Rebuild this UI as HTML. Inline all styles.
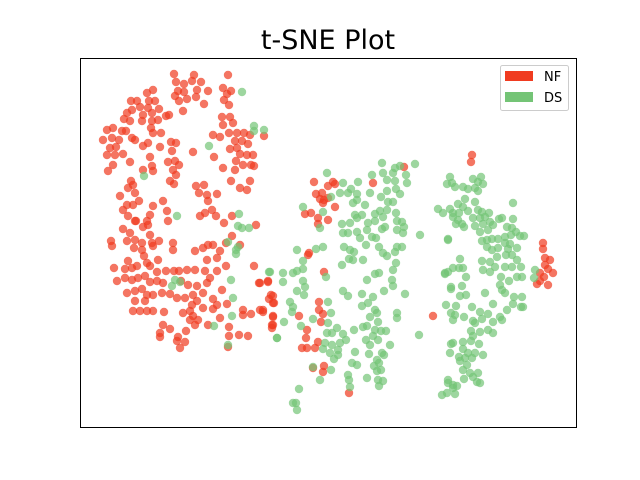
<!DOCTYPE html>
<html><head><meta charset="utf-8"><style>
html,body{margin:0;padding:0;background:#fff;}
svg{display:block;font-family:"DejaVu Sans","Liberation Sans",sans-serif;}
</style></head><body>
<svg id="chart" width="640" height="480" viewBox="0 0 640 480" xmlns="http://www.w3.org/2000/svg">
<rect x="0" y="0" width="640" height="480" fill="#fff"/>
<text x="328" y="49" text-anchor="middle" font-size="27" fill="#000">t-SNE Plot</text>
<g id="points"></g>
<rect x="80.5" y="58.5" width="496" height="369" fill="none" stroke="#000" stroke-width="1"/>
<g>
<rect x="500.5" y="65.5" width="68" height="45" rx="2" fill="#fff" fill-opacity="0.8" stroke="#ccc"/>
<rect x="505" y="71" width="28" height="10" fill="#f03b20"/>
<text x="544" y="81" font-size="13">NF</text>
<rect x="505" y="92" width="28" height="10" fill="#74c476"/>
<text x="544" y="102" font-size="13">DS</text>
</g>
</svg>
<script>
// t-SNE embedding coordinates (arbitrary units; y axis increases downward)
const nfPoints = [[94,16],[114,17],[148,17],[96,24],[104,26],[112,23],[121,24],[117,32],[128,33],[98,33],[104,34],[95,38],[99,43],[107,41],[116,39],[124,46],[143,30],[151,33],[147,36],[144,42],[149,47],[103,53],
[73,32],[67,35],[69,43],[75,43],[51,43],[57,43],[47,55],[52,52],[60,49],[68,50],[72,55],[79,51],[63,57],[44,61],[50,63],[62,63],[72,63],[78,62],[86,58],[89,57],[27,72],[33,70],[42,73],[46,73],[23,82],[32,80],[39,82],[52,80],[55,82],[63,88],[68,85],[71,70],[73,75],[81,75],[80,89],[91,84],[96,85],[92,93],[30,90],[36,89],[27,97],[35,97],[43,96],[33,107],[28,113],[50,104],[70,99],[63,112],[72,108],[73,113],[88,104],[95,103],[99,107],[93,112],[96,117],[90,123],[94,126],[113,94],[134,99],
[142,59],[150,59],[143,67],[153,65],[133,77],[140,79],[149,75],[157,75],[164,75],[155,83],[162,83],[170,77],[184,78],[150,91],[157,90],[168,86],[160,96],[167,97],[173,97],[143,110],[156,103],[163,107],[171,107],[174,108],[155,112],[151,123],[170,123],[160,130],[167,132],
[51,123],[53,127],[48,130],[55,135],[40,138],[47,147],[53,147],[59,143],[43,152],[48,158],[55,163],[67,163],[70,157],[73,148],[83,143],[87,153],[88,163],[116,128],[124,127],[119,135],[127,137],[137,136],[128,143],[120,158],[125,155],[132,152],[136,158],[144,165],[152,158],[176,167],[43,171],[50,175],[56,163],[63,169],[68,167],[70,177],[31,183],[32,188],[47,183],[55,182],[62,185],[72,185],[79,183],[93,185],[93,192],[54,190],[62,192],[73,188],[78,202],[64,198],[67,205],[48,203],[52,210],[34,210],[45,211],[57,208],[70,208],[77,214],[86,213],[94,213],[99,213],[107,212],[115,212],[115,193],[123,190],[128,187],[133,187],[140,193],[137,200],[146,185],[152,178],[160,187],[146,208],[137,213],[127,202],[125,213],[130,220],[127,225],[117,228],[108,227],[101,223],[37,223],[45,220],[52,222],[58,220],[65,218],[70,224],[77,223],[83,225],[47,235],[55,233],[62,231],[67,237],[73,237],[82,235],[90,236],[97,240],[105,240],[113,237],[117,243],[123,235],[133,241],[142,232],[137,247],[147,246],[133,251],[123,250],[112,247],[110,253],[113,258],[103,255],[55,243],[65,243],[53,253],[60,253],[67,253],[73,253],[84,254],[110,262],[118,262],[115,267],[128,267],[140,260],[163,252],[171,256],[180,252],[183,254],[193,258],[163,257],[83,267],[90,271],[80,275],[80,279],[98,279],[106,273],[97,283],[105,284],[100,290],[149,269],[149,278],[159,277],[168,278],[148,289],[191,237],[193,245],[174,208],[179,225],[188,223],[192,267],
[392,97],[391,104],[324,109],[234,124],[253,124],[248,128],[255,126],[293,125],[236,136],[242,135],[240,141],[244,142],[248,140],[255,149],[243,145],[225,156],[231,155],[238,160],[248,162],[238,166],[229,195],[228,197],[244,214],[180,225],[188,224],[193,238],[189,241],[194,245],[183,252],[193,259],[193,267],[192,270],[219,258],[239,244],[239,252],[243,256],[241,264],[227,272],[226,280],[238,284],[222,290],[227,290],[235,290],[233,310],[244,308],[243,314],[269,335],[353,258],
[463,185],[463,191],[465,200],[470,202],[465,207],[468,211],[473,215],[460,215],[464,219],[460,223],[457,226],[468,227]];
const dsPoints = [[162,34],[174,68],[184,72],[174,73],[129,88],[64,118],[97,158],[159,156],[158,168],[162,170],[169,170],[148,184],[156,192],[158,189],[156,196],[151,222],[153,240],[152,258],[95,222],[92,228],[100,224],[134,268],[189,214],[197,280],[148,287],
[302,105],[315,110],[320,108],[335,106],[313,115],[326,117],[303,115],[292,117],[307,122],[315,123],[327,125],[278,124],[263,125],[271,131],[260,135],[268,135],[277,136],[290,135],[307,133],[316,131],[320,136],[301,139],[308,144],[313,144],[277,142],[273,145],[285,147],[223,149],[251,139],[247,115],[243,154],[300,153],[307,152],[316,155],[275,157],[282,157],[295,156],[303,159],[317,163],[322,164],[262,166],[270,165],[277,160],[288,165],[295,163],[305,169],[302,171],[324,169],[317,172],[323,175],[287,172],[268,175],[277,174],[263,175],[280,180],[292,179],[296,180],[340,177],[240,170],[286,187],[299,189],[264,189],[270,192],[274,194],[217,192],[236,191],[243,189],[317,189],[322,189],[315,194],[303,195],[307,198],[223,203],[269,201],[262,207],[273,202],[283,202],[316,205],[313,212],[190,214],[203,215],[213,215],[217,213],[223,211],[246,219],[295,216],[299,215],[287,222],[312,222],[313,228],[203,224],[223,223],[225,229],[217,233],[224,237],[263,233],[268,238],[282,236],[293,239],[304,233],[325,236],[210,244],[213,249],[212,254],[248,244],[251,255],[288,245],[282,248],[295,252],[290,259],[297,255],[298,264],[317,255],[317,260],[204,264],[233,261],[221,268],[248,265],[257,270],[247,275],[252,275],[263,276],[266,282],[283,269],[287,268],[274,272],[295,272],[301,273],[306,273],[293,278],[298,282],[286,282],[290,287],[310,287],[197,280],[245,285],[252,287],[260,285],[258,292],[243,291],[250,295],[258,297],[254,301],[275,294],[289,296],[302,295],[304,297],[297,302],[299,305],[294,308],[272,305],[277,307],[251,312],[233,309],[268,317],[297,313],[301,312],[269,322],[240,322],[287,320],[298,322],[303,323],[299,328],[270,329],[219,331],[213,345],[216,345],[217,352],
[370,119],[367,126],[372,125],[375,129],[383,129],[388,131],[393,121],[401,119],[398,124],[403,126],[395,130],[398,133],[385,141],[395,144],[378,146],[383,149],[370,151],[373,155],[379,155],[388,153],[398,152],[402,154],[358,151],[363,155],[433,145],[373,159],[378,162],[393,160],[400,160],[409,155],[405,159],[410,164],[419,161],[422,160],[433,161],[376,166],[382,166],[384,169],[395,168],[403,166],[413,167],[408,172],[400,174],[427,169],[432,170],[436,174],[425,179],[431,177],[440,178],[444,178],[402,183],[407,182],[412,181],[418,181],[425,185],[430,186],[407,189],[412,192],[418,190],[428,191],[437,190],[368,181],[417,199],[426,197],[432,197],[437,202],[402,203],[410,204],[415,209],[425,209],[432,209],[441,209],[380,201],[383,210],[373,210],[368,214],[365,216],[403,212],[410,214],[386,219],[421,219],[429,223],[437,219],[442,219],[455,212],[454,220],[420,227],[422,232],[425,235],[434,239],[442,239],[433,246],[441,249],[443,249],[371,229],[371,231],[382,228],[380,238],[386,237],[405,235],[366,247],[376,248],[392,249],[400,254],[408,256],[413,246],[427,252],[420,259],[422,262],[413,264],[371,255],[375,257],[373,262],[384,259],[393,263],[402,261],[395,265],[339,277],[368,182],[391,273],[400,274],[408,272],[413,275],[393,278],[383,284],[391,283],[371,286],[373,285],[399,286],[383,291],[370,295],[388,295],[395,295],[403,297],[379,299],[385,300],[392,300],[380,303],[387,307],[383,312],[390,315],[398,315],[384,321],[393,319],[397,324],[400,325],[368,322],[368,325],[373,327],[377,328],[373,330],[362,337],[367,335],[375,336],[365,215],[379,210]];
const xDomain = [0, 496];
const yDomain = [0, 369];
const xRange = [80, 576];
const yRange = [58, 427];
function xScale(v){ return xRange[0] + (v - xDomain[0]) / (xDomain[1] - xDomain[0]) * (xRange[1] - xRange[0]); }
function yScale(v){ return yRange[0] + (v - yDomain[0]) / (yDomain[1] - yDomain[0]) * (yRange[1] - yRange[0]); }
const NS = "http://www.w3.org/2000/svg";
const g = document.getElementById('points');
function drawSeries(pts, color, name){
  const sg = document.createElementNS(NS, 'g');
  
  
  pts.forEach(p => {
    const c = document.createElementNS(NS, 'circle');
    c.setAttribute('cx', xScale(p[0]));
    c.setAttribute('cy', yScale(p[1]));
    c.setAttribute('r', 4.2);
    c.setAttribute('fill', color);
    c.setAttribute('fill-opacity', 0.7);
    
    
    sg.appendChild(c);
  });
  g.appendChild(sg);
}
drawSeries(nfPoints, '#f03b20', 'nf-series');
drawSeries(dsPoints, '#74c476', 'ds-series');
</script>
</body></html>
